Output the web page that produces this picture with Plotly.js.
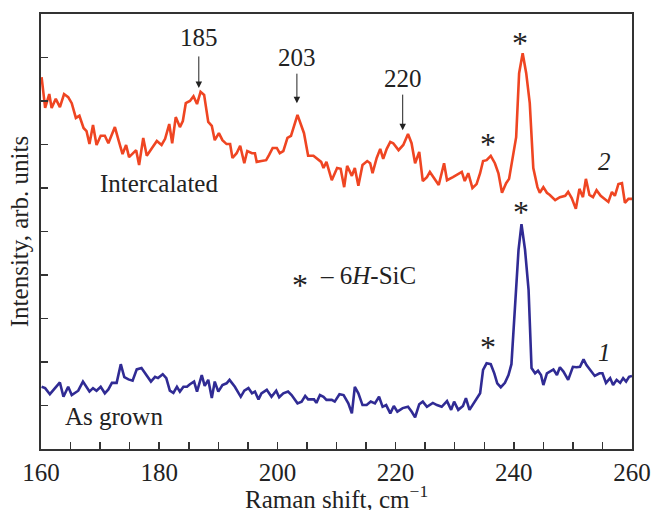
<!DOCTYPE html>
<html>
<head>
<meta charset="utf-8">
<script src="https://cdn.plot.ly/plotly-3.0.1.min.js"></script>
<style>
  html, body { margin: 0; padding: 0; background: #fff; }
  #chart { width: 653px; height: 510px; }
</style>
</head>
<body>
<div id="chart"></div>
<script>
// Raman spectra: curve 2 (intercalated) and curve 1 (as grown)
const intercalatedShift = [160.1,160.7,161.4,161.8,162.5,163.2,163.9,164.6,165.2,165.9,
  166.5,167.2,167.7,168.2,168.8,169.4,170.1,170.8,171.4,172.5,
  173.2,173.8,174.4,174.9,176.1,176.6,177.3,177.9,178.7,179.6,
  180.4,181.0,181.7,182.2,182.8,183.5,184.0,184.5,185.2,185.8,
  186.4,187.0,187.6,188.3,188.9,189.4,190.1,190.7,191.4,192.0,
  192.4,193.1,193.7,194.4,194.9,195.7,196.2,196.5,197.3,198.1,
  198.6,199.2,199.9,200.4,201.0,201.7,202.3,203.4,204.5,205.2,
  206.1,207.1,207.4,207.8,208.3,209.2,210.1,210.7,211.3,211.8,
  212.6,213.1,213.7,214.4,215.2,215.7,216.1,216.8,217.4,217.9,
  218.5,219.1,219.6,220.5,221.3,222.1,222.7,223.3,224.0,224.6,
  225.3,225.8,226.5,227.3,228.2,228.7,229.7,230.3,231.2,231.7,
  232.3,233.0,233.7,234.3,234.8,235.4,236.1,236.8,237.4,238.0,
  238.7,239.2,239.8,240.4,240.9,241.5,242.1,242.7,243.3,244.0,
  244.4,245.0,245.6,246.1,247.0,247.8,248.7,249.2,249.8,250.5,
  251.1,251.7,252.2,252.8,253.4,254.0,254.7,255.4,256.0,256.6,
  257.1,257.7,258.3,258.8,259.4,260.0];
const intercalatedIntensity = [8.55,7.84,8.16,7.84,8.05,7.86,8.16,8.09,7.95,7.61,
  7.66,7.38,7.31,7.01,7.45,6.99,7.20,7.20,7.03,7.40,
  7.06,6.78,6.99,6.71,6.87,6.53,7.15,6.74,6.90,7.08,
  6.99,7.13,7.47,7.03,7.63,7.40,7.54,7.95,8.00,8.11,
  7.93,8.21,8.14,7.52,7.43,7.10,7.26,7.10,7.01,7.01,
  6.69,6.80,6.97,6.57,6.85,6.80,6.80,6.60,6.62,6.64,
  6.76,6.92,6.92,6.80,6.85,7.15,7.20,7.68,7.26,6.74,
  6.74,6.64,6.60,6.46,6.60,6.18,6.46,6.44,6.02,6.51,
  6.28,6.46,6.05,6.53,6.62,6.57,6.34,6.69,6.90,6.67,
  6.90,7.06,7.03,6.87,6.99,7.24,7.03,6.57,6.83,6.16,
  6.25,6.37,6.23,6.07,6.57,6.18,6.25,6.30,6.37,6.16,
  6.34,6.00,6.09,6.34,6.62,6.64,6.74,6.57,6.34,5.89,
  6.11,6.21,6.71,7.17,8.64,9.10,8.64,7.95,6.46,6.02,
  5.89,6.02,5.89,5.84,5.72,5.79,5.82,5.91,5.77,5.52,
  5.98,5.79,6.21,5.84,5.79,5.95,5.82,5.75,5.68,5.91,
  5.82,6.09,6.11,5.66,5.75,5.75];

const grownShift = [160.1,160.7,161.5,162.4,163.2,163.8,164.6,165.2,166.3,167.1,
  167.6,168.2,168.8,169.4,170.1,170.8,171.4,172.0,172.8,173.5,
  174.1,174.8,175.5,176.2,177.0,177.9,178.6,179.3,179.8,180.6,
  181.2,181.8,182.4,183.0,183.5,184.1,184.7,185.2,185.9,186.4,
  187.2,187.7,188.3,188.9,189.4,190.0,190.7,191.4,191.9,192.8,
  193.8,194.4,195.1,195.7,196.2,196.8,197.3,198.2,199.0,199.8,
  200.3,201.0,201.8,202.4,203.4,204.1,204.7,205.2,206.2,206.6,
  207.2,207.8,208.3,209.2,209.7,210.5,211.2,212.0,212.6,213.1,
  213.7,214.4,215.1,215.8,216.5,217.2,217.8,218.4,219.1,219.7,
  220.3,221.2,222.1,222.7,223.3,224.0,224.6,225.3,226.3,227.0,
  227.8,228.7,229.4,229.9,230.6,231.4,231.9,232.5,233.0,233.7,
  234.3,234.8,235.4,236.1,236.7,237.2,237.8,238.5,239.1,239.6,
  240.2,240.8,241.3,241.9,242.5,243.0,243.6,244.1,244.6,245.0,
  245.6,246.1,246.7,247.3,247.8,248.4,249.2,250.0,250.6,251.2,
  251.8,252.3,252.9,253.7,254.5,255.0,255.6,256.3,256.8,257.4,
  258.0,258.5,259.0,259.5,260.0];
const grownIntensity = [1.43,1.40,1.26,1.40,1.53,1.20,1.43,1.24,1.34,1.55,
  1.45,1.32,1.40,1.34,1.43,1.28,1.37,1.52,1.52,1.95,
  1.65,1.60,1.57,1.83,1.86,1.70,1.55,1.66,1.63,1.72,
  1.63,1.34,1.29,1.43,1.32,1.43,1.43,1.49,1.55,1.32,
  1.70,1.45,1.59,1.17,1.55,1.32,1.47,1.51,1.59,1.43,
  1.20,1.34,1.40,1.28,1.32,1.14,1.28,1.36,1.20,1.34,
  1.19,1.28,1.32,1.24,1.05,1.09,1.22,1.14,1.14,1.06,
  1.24,1.20,1.13,1.13,1.09,1.26,1.24,1.05,0.82,1.43,
  1.28,1.01,1.01,1.09,1.05,1.20,0.97,1.01,0.82,0.99,
  0.86,0.94,0.97,0.86,0.73,1.03,1.09,0.97,1.06,1.01,
  0.97,1.10,0.90,1.09,0.90,0.99,1.17,0.90,1.01,1.14,
  1.28,1.82,1.97,1.95,1.74,1.51,1.42,1.52,1.70,1.95,
  3.20,4.58,5.17,4.58,3.66,1.86,1.74,1.80,1.70,1.47,
  1.74,1.78,1.83,1.70,1.88,1.78,1.59,1.89,1.88,1.89,
  2.06,1.93,1.82,1.68,1.74,1.74,1.52,1.63,1.47,1.59,
  1.52,1.63,1.55,1.66,1.68];

// Marked peak positions (labels) and the 6H-SiC lines
const peakLabels = ['185', '203', '220'];
const peakArrowX = [186.7, 203.3, 221.2];
const xTickVals = [160, 180, 200, 220, 240, 260];

const serif = 'Liberation Serif, Times New Roman, serif';
const ink = '#222';
const frame = '#333';

const traces = [
  { x: intercalatedShift, y: intercalatedIntensity, mode: 'lines', name: 'Intercalated',
    line: { color: '#EF4522', width: 2.6 }, hoverinfo: 'x+y' },
  { x: grownShift, y: grownIntensity, mode: 'lines', name: 'As grown',
    line: { color: '#302B94', width: 2.6 }, hoverinfo: 'x+y' }
];

const annotations = [];
function txt(x, y, text, opts) {
  annotations.push(Object.assign({
    x: x, y: y, xref: 'x', yref: 'y', text: text, showarrow: false,
    font: { family: serif, size: 25, color: ink }
  }, opts || {}));
}

// Peak labels with short down arrows
const labelY = [9.47, 8.99, 8.51];
const arrowTipY = [8.30, 7.95, 7.33];
const arrowLen = [33, 31, 37];
peakLabels.forEach((lab, i) => {
  txt(peakArrowX[i], labelY[i], lab);
  annotations.push({
    x: peakArrowX[i], y: arrowTipY[i], xref: 'x', yref: 'y', text: '',
    showarrow: true, ax: 0, ay: -arrowLen[i], arrowhead: 2, arrowsize: 1.3,
    arrowwidth: 1, arrowcolor: ink, standoff: 0
  });
});

// 6H-SiC asterisks
const starFont = { family: serif, size: 32, color: ink };
txt(241.05, 9.49, '*', { font: starFont, yshift: -7 });
txt(235.6, 7.17, '*', { font: starFont, yshift: -7 });
txt(241.3, 5.61, '*', { font: starFont, yshift: -7 });
txt(235.7, 2.51, '*', { font: starFont, yshift: -7 });

// Curve numbers and names
txt(255.3, 6.60, '<i>2</i>');
txt(255.3, 2.23, '<i>1</i>');
txt(180.0, 6.11, 'Intercalated');
txt(172.4, 0.74, 'As grown');

// Key for the asterisk
txt(203.8, 3.93, '*', { font: starFont, yshift: -7 });
txt(215.3, 4.0, '– 6<i>H</i>-SiC');

// x-axis title, set low near the page edge
annotations.push({
  xref: 'paper', yref: 'paper', x: 0.5, y: 0, yanchor: 'middle', yshift: -48,
  text: 'Raman shift, cm<sup>−1</sup>', showarrow: false,
  font: { family: serif, size: 25, color: ink }
});

const layout = {
  width: 653, height: 510,
  margin: { l: 41, r: 21, t: 14, b: 61, pad: 0 },
  paper_bgcolor: '#fff', plot_bgcolor: '#fff',
  showlegend: false,
  font: { family: serif, size: 25, color: ink },
  xaxis: {
    range: [160, 260], tickvals: xTickVals, ticks: 'inside', ticklen: 7, tickwidth: 1.5,
    tickcolor: frame, showline: true, linecolor: frame, linewidth: 2, mirror: true,
    showgrid: false, zeroline: false,
    tickfont: { family: serif, size: 25, color: ink },
    minor: { dtick: 5, tick0: 160, ticks: 'inside', ticklen: 7, tickwidth: 1.5, tickcolor: frame, showgrid: false }
  },
  yaxis: {
    range: [0, 10], dtick: 1, tick0: 0, ticks: 'inside', ticklen: 7, tickwidth: 1.5,
    tickcolor: frame, showline: true, linecolor: frame, linewidth: 2, mirror: true,
    showgrid: false, zeroline: false, showticklabels: false,
    title: { text: 'Intensity, arb. units', font: { family: serif, size: 25, color: ink }, standoff: 3 }
  },
  annotations: annotations
};

Plotly.newPlot('chart', traces, layout, { displayModeBar: false, staticPlot: true });
</script>
</body>
</html>
